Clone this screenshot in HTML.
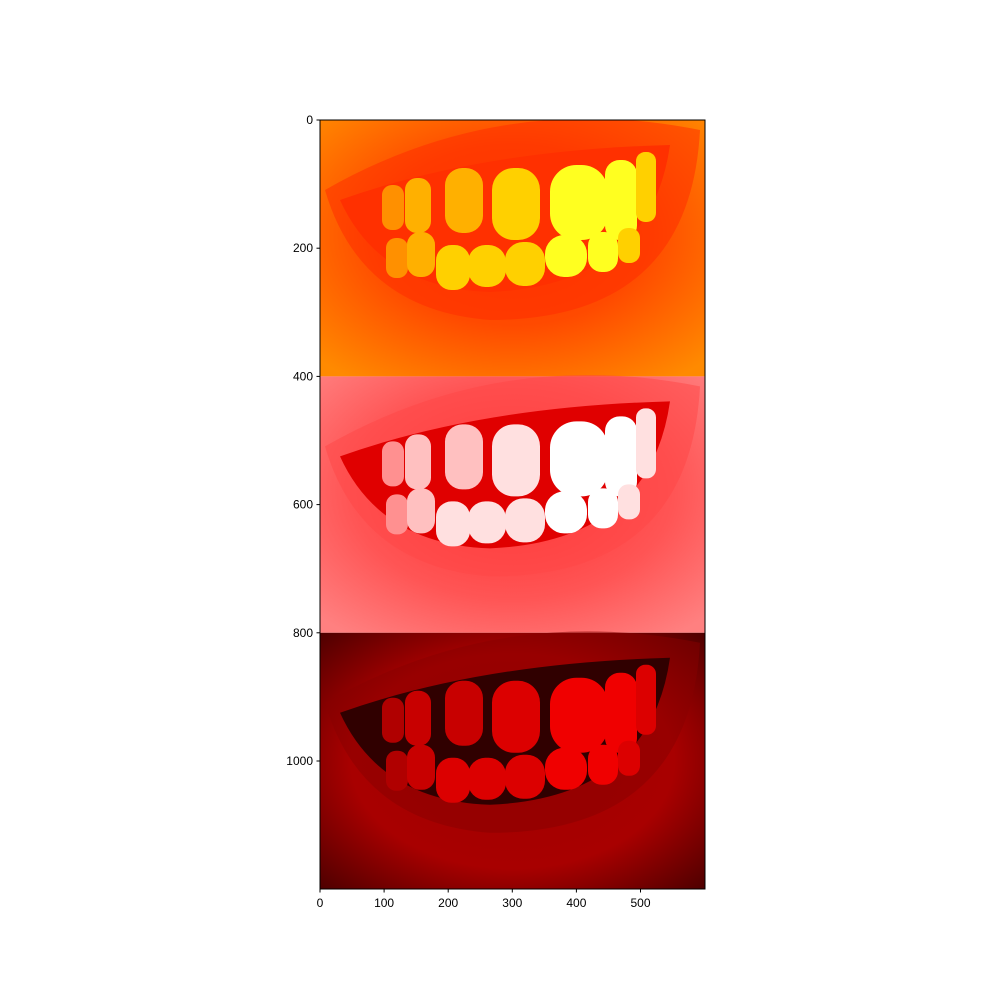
<!DOCTYPE html>
<html><head><meta charset="utf-8"><style>
body{margin:0;background:#fff;font-family:"Liberation Sans",sans-serif}
svg text{font-family:"Liberation Sans",sans-serif;font-size:12px;fill:#000}
</style></head><body>
<svg id="fig" width="1000" height="1000" viewBox="0 0 1000 1000">
<defs>
<radialGradient id="g1" cx="0.5" cy="0.45" r="0.7">
<stop offset="0" stop-color="#ff3a00"/><stop offset="0.5" stop-color="#ff4a00"/><stop offset="1" stop-color="#ff8a00"/></radialGradient>
<radialGradient id="g2" cx="0.5" cy="0.45" r="0.7">
<stop offset="0" stop-color="#ff3030"/><stop offset="0.6" stop-color="#ff5555"/><stop offset="1" stop-color="#ff8080"/></radialGradient>
<radialGradient id="g3" cx="0.5" cy="0.5" r="0.7">
<stop offset="0" stop-color="#a00000"/><stop offset="0.6" stop-color="#a80000"/><stop offset="1" stop-color="#500000"/></radialGradient>
<clipPath id="clipAx"><rect x="320" y="120" width="385" height="769"/></clipPath>
</defs>
<g id="img" clip-path="url(#clipAx)"></g>
<rect x="320" y="120" width="385" height="769" fill="none" stroke="#000" stroke-width="1"/>
<g id="ticks"></g>
</svg>
<script>
const xTicks=[0,100,200,300,400,500];
const yTicks=[0,200,400,600,800,1000];
const panelStarts=[0,400,800];
const X0=320,Y0=120,S=384.6/600;
const sx=v=>X0+v*S, sy=v=>Y0+v*S;
const NS="http://www.w3.org/2000/svg";
function mk(tag,attrs,parent){const e=document.createElementNS(NS,tag);for(const k in attrs)e.setAttribute(k,attrs[k]);parent.appendChild(e);return e;}
const img=document.getElementById('img');
const styles=[
 {bg:'url(#g1)',lip:'#ff2a00',mouth:'#ff3000',teeth:['#ff9000','#ffb000','#ffd000','#ffff20']},
 {bg:'url(#g2)',lip:'#ff4545',mouth:'#e00000',teeth:['#ff9090','#ffc0c0','#ffe0e0','#ffffff']},
 {bg:'url(#g3)',lip:'#880000',mouth:'#300000',teeth:['#b00000','#c80000','#dc0000','#f00000']}];
panelStarts.forEach((p,i)=>{
 const st=styles[i],top=sy(p),h=sy(p+400)-top;
 const g=mk('g',{},img);
 
 
 mk('rect',{x:320,y:top,width:385,height:h,fill:st.bg},g);
 const o=top-120;
 mk('path',{d:`M325,${o+190} Q500,${o+90} 700,${o+130} Q690,${o+320} 490,${o+320} Q360,${o+310} 325,${o+190}Z`,fill:st.lip,opacity:0.5},g);
 mk('path',{d:`M340,${o+200} Q480,${o+150} 670,${o+145} Q650,${o+285} 490,${o+292} Q380,${o+288} 340,${o+200}Z`,fill:st.mouth},g);
 const tt=[[382,185,22,45,0],[405,178,26,55,1],[445,168,38,65,1],[492,168,48,72,2],[550,165,58,75,3],[605,160,32,80,3],[636,152,20,70,2],
           [386,238,22,40,0],[407,232,28,45,1],[436,245,34,45,2],[468,245,38,42,2],[505,242,40,44,2],[545,235,42,42,3],[588,232,30,40,3],[618,228,22,35,2]];
 tt.forEach(t=>mk('rect',{x:t[0],y:o+t[1],width:t[2],height:t[3],rx:Math.min(t[2],t[3])/2.2,fill:st.teeth[t[4]]},g));
});
const tg=document.getElementById('ticks');
xTicks.forEach(v=>{
 const l=mk('line',{x1:sx(v),x2:sx(v),y1:889,y2:892.5,stroke:'#000'},tg);
 
 
 const t=mk('text',{x:sx(v),y:907,'text-anchor':'middle'},tg);t.textContent=v;
 
 
});
yTicks.forEach(v=>{
 const l=mk('line',{x1:316.5,x2:320,y1:sy(v),y2:sy(v),stroke:'#000'},tg);
 
 
 const t=mk('text',{x:313,y:sy(v)+4,'text-anchor':'end'},tg);t.textContent=v;
 
 
});
</script>
</body></html>
